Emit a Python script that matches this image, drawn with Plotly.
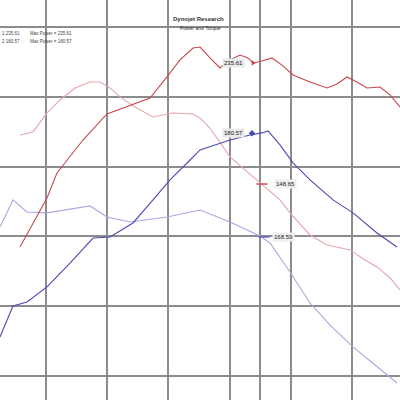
import plotly.graph_objects as go

# Run 1 power (dark red)
rpm_p1 = [2575, 3016, 3179, 3343, 3604, 3996, 4421, 4699, 4977, 5189, 5402, 5516, 5679, 5843, 6006,
          6170, 6300, 6382, 6529, 6692, 6872, 7036, 7313, 7591, 7755, 7918, 8081, 8245, 8457, 8621, 8784]
hp_p1 = [92.4, 127.5, 145.4, 154.7, 169.0, 187.7, 194.8, 199.1, 214.2, 226.4, 234.9, 235.6, 227.8, 220.6, 226.4,
         229.9, 227.8, 224.2, 225.6, 227.8, 222.1, 215.6, 210.6, 206.3, 209.2, 214.2, 210.6, 206.3, 207.0, 201.3, 192.7]

# Run 1 torque (light red)
rpm_t1 = [2575, 2787, 3016, 3228, 3474, 3719, 3882, 4045, 4209, 4454, 4748, 4944, 5075, 5402, 5516,
          5679, 5843, 6006, 6251, 6545, 6823, 6987, 7313, 7591, 7804, 7967, 8212, 8408, 8621, 8784]
tq_t1 = [172.6, 174.8, 188.4, 197.7, 206.3, 210.6, 210.6, 206.3, 199.9, 192.7, 185.5, 187.0, 188.4, 187.7, 184.8,
         177.6, 166.9, 156.9, 147.6, 136.8, 126.1, 116.8, 101.0, 93.8, 91.7, 90.3, 83.1, 78.1, 70.2, 61.6]

# Run 2 power (blue)
rpm_p2 = [2248, 2460, 2689, 3016, 3392, 3768, 4045, 4421, 4748, 5026, 5353, 5516, 5761, 6006, 6333,
          6529, 6627, 6823, 7036, 7313, 7690, 8016, 8408, 8735]
hp_p2 = [27.9, 50.1, 53.0, 63.8, 80.9, 98.8, 99.6, 109.6, 126.1, 140.4, 154.7, 161.9, 165.5, 169.0, 172.6,
         174.1, 175.5, 165.5, 152.6, 140.4, 126.1, 116.8, 102.4, 92.4]

# Run 2 torque (light blue)
rpm_t2 = [2248, 2460, 2689, 3016, 3719, 3996, 4372, 4977, 5516, 6006, 6496, 6660, 6987, 7313, 7640,
          8016, 8376, 8735]
tq_t2 = [106.7, 126.1, 117.5, 116.8, 121.8, 113.9, 110.3, 113.9, 118.9, 110.3, 100.3, 95.3, 74.5, 52.3, 36.5,
         20.8, 7.9, -5.0]

grid_x = [3000, 4000, 5000, 6000, 6500, 7000, 8000]
grid_y = [0, 50, 100, 150, 200, 250]

# cursor readouts
cur_labels = ["235.61", "180.57", "148.65", "168.59"]
cur_x = [6382, 6366, 6529, 6562]
cur_y = [224.2, 173.8, 137.5, 99.6]

C_P1, C_T1, C_P2, C_T2 = "#c8474f", "#e6a6ab", "#4a4ab4", "#a9a9e2"

fig = go.Figure()
for x, y, c in [(rpm_t1, tq_t1, C_T1), (rpm_t2, tq_t2, C_T2), (rpm_p1, hp_p1, C_P1), (rpm_p2, hp_p2, C_P2)]:
    fig.add_trace(go.Scatter(x=x, y=y, mode="lines", line=dict(color=c, width=1.1), hoverinfo="skip"))

fig.add_trace(go.Scatter(x=cur_x[:2], y=cur_y[:2], mode="markers", hoverinfo="skip",
                         marker=dict(symbol=["triangle-right", "diamond"], size=5, color=[C_P1, C_P2])))
fig.add_trace(go.Scatter(x=cur_x[2:], y=cur_y[2:], mode="markers", hoverinfo="skip",
                         marker=dict(symbol="line-ew", size=8, line=dict(width=1.5, color=["#d05060", "#6060d0"]))))

f_small = dict(family="Liberation Sans, Arial", size=6, color="#222")
fig.add_annotation(x=6251, y=cur_y[0], text=cur_labels[0], showarrow=False, xanchor="right",
                   font=f_small, bgcolor="#e8e8e8")
fig.add_annotation(x=6251, y=cur_y[1], text=cur_labels[1], showarrow=False, xanchor="right",
                   font=f_small, bgcolor="#e8e8e8")
fig.add_annotation(x=6720, y=cur_y[2], text=cur_labels[2], showarrow=False, xanchor="left",
                   font=f_small, bgcolor="#eeeeee")
fig.add_annotation(x=6700, y=cur_y[3], text=cur_labels[3], showarrow=False, xanchor="left",
                   font=f_small, bgcolor="#eeeeee")

f_t = dict(family="Liberation Sans, Arial", size=6, color="#333")
fig.add_annotation(xref="paper", yref="paper", x=0.495, y=0.965, text="<b>Dynojet Research</b>",
                   showarrow=False, font=f_t)
fig.add_annotation(xref="paper", yref="paper", x=0.5, y=0.943, text="Power and Torque",
                   showarrow=False, font=dict(family="Liberation Sans, Arial", size=5, color="#333"))
f_l = dict(family="Liberation Sans, Arial", size=4.5, color="#444")
fig.add_annotation(xref="paper", yref="paper", x=0.0, y=0.927, text="1 235.61", xanchor="left",
                   showarrow=False, font=f_l)
fig.add_annotation(xref="paper", yref="paper", x=0.07, y=0.927, text="Max Power = 235.61", xanchor="left",
                   showarrow=False, font=f_l)
fig.add_annotation(xref="paper", yref="paper", x=0.0, y=0.908, text="2 180.57", xanchor="left",
                   showarrow=False, font=f_l)
fig.add_annotation(xref="paper", yref="paper", x=0.07, y=0.908, text="Max Power = 180.57", xanchor="left",
                   showarrow=False, font=f_l)

fig.update_layout(
    width=400, height=400, margin=dict(l=0, r=0, t=0, b=0),
    paper_bgcolor="white", plot_bgcolor="white", showlegend=False, hovermode=False,
    xaxis=dict(range=[2248, 8784], tickvals=grid_x, showticklabels=False, ticks="",
               showgrid=True, gridcolor="#8c8c8c", gridwidth=2, zeroline=False, showline=False),
    yaxis=dict(range=[-17.2, 269.3], tickvals=grid_y, showticklabels=False, ticks="",
               showgrid=True, gridcolor="#8c8c8c", gridwidth=2, zeroline=False, showline=False),
)
fig.write_html("out.html", config={"displayModeBar": False},
               post_script="document.body.style.margin='0';document.body.style.overflow='hidden';")
